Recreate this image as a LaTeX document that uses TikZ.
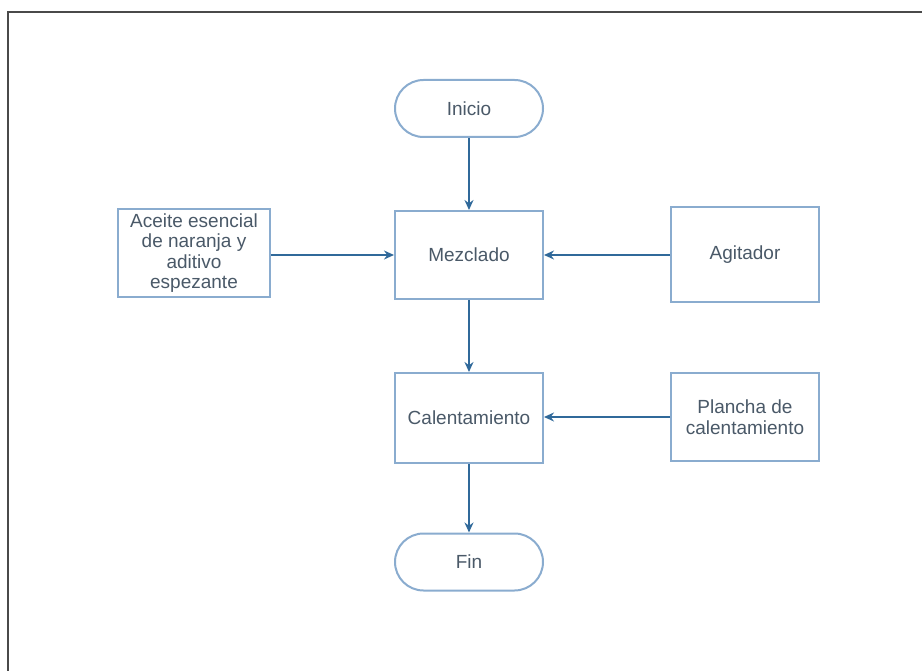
\documentclass[tikz,border=0pt]{standalone}
\usepackage{fontspec}
\setmainfont{Liberation Sans}
\usetikzlibrary{arrows.meta}
\definecolor{boxline}{HTML}{8AACCF}
\definecolor{flow}{HTML}{30699A}
\definecolor{txt}{HTML}{4A5968}
\definecolor{frame}{HTML}{4A4A4A}
\begin{document}
\begin{tikzpicture}[x=1pt,y=-1pt,
  every node/.style={font=\fontsize{19}{20.5}\selectfont, text=txt, align=center, inner sep=0pt},
  procbox/.style={draw=boxline, line width=2pt, fill=white, minimum width=148pt, minimum height=88pt},
  terminal/.style={draw=boxline, line width=2pt, fill=white, minimum width=148pt, minimum height=57pt, rounded corners=28.5pt},
  flowarrow/.style={draw=flow, line width=1.5pt, -{Stealth[length=10pt,width=9pt]}}]
  \useasboundingbox (0,0) rectangle (922,671);
  % outer frame (top and left edges)
  \draw[frame, line width=1.6pt] (8,671) -- (8,12) -- (922,12);

  \node[terminal] (inicio) at (469,108.5) {Inicio};
  \node[procbox] (mezclado) at (469,255) {Mezclado};
  \node[procbox, minimum width=152pt] (aceite) at (194,253) {Aceite esencial\\de naranja y\\aditivo\\espezante};
  \node[procbox, minimum height=95pt] (agitador) at (745,255) {Agitador};
  \node[procbox, minimum height=90pt] (calent) at (469,418) {Calentamiento};
  \node[procbox, minimum height=88pt] (plancha) at (745,417) {Plancha de\\calentamiento};
  \node[terminal] (fin) at (469,562) {Fin};

  \draw[flowarrow] (inicio) -- (mezclado);
  \draw[flowarrow] (aceite.east |- mezclado.west) -- (mezclado.west);
  \draw[flowarrow] (agitador.west) -- (mezclado.east);
  \draw[flowarrow] (mezclado) -- (calent);
  \draw[flowarrow] (plancha.west) -- (plancha.west -| calent.east);
  \draw[flowarrow] (calent) -- (fin);
\end{tikzpicture}
\end{document}
